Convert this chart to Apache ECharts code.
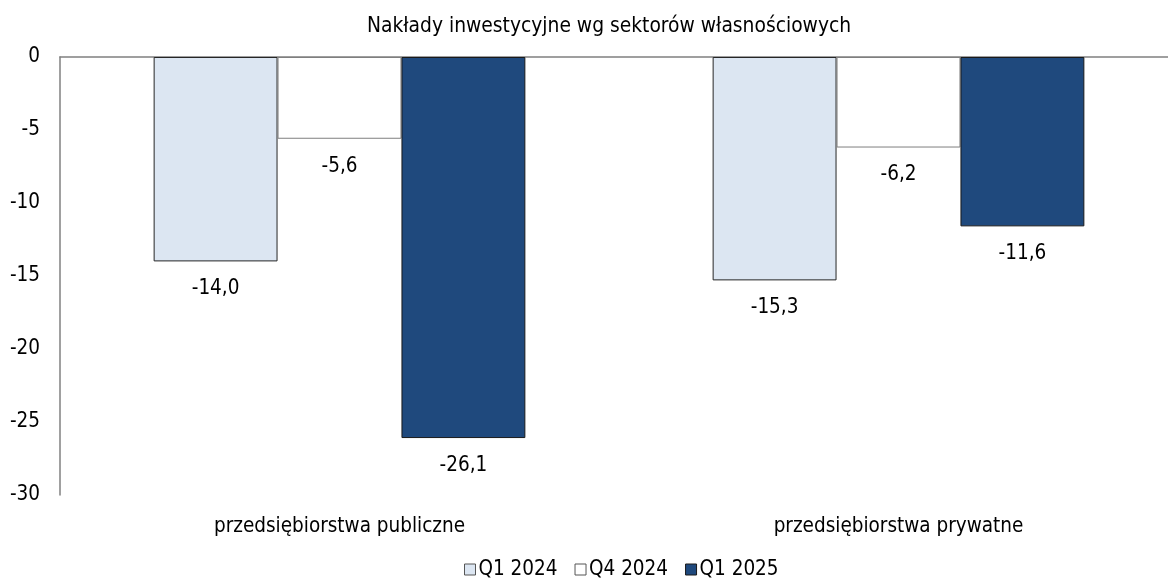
<!DOCTYPE html>
<html>
<head>
<meta charset="utf-8">
<script src="https://cdn.jsdelivr.net/npm/echarts@6/dist/echarts.min.js"></script>
<style>
  html, body { margin: 0; padding: 0; background: #fff; }
  #chart { width: 1168px; height: 581px; }
</style>
</head>
<body>
<div id="chart"></div>
<script>
// Categories and series values (percent change)
const categories = ['przedsiębiorstwa publiczne', 'przedsiębiorstwa prywatne'];
const seriesNames = ['Q1 2024', 'Q4 2024', 'Q1 2025'];
const q1_2024 = [-14.0, -15.3];
const q4_2024 = [-5.6, -6.2];
const q1_2025 = [-26.1, -11.6];
const yTicks = [0, -5, -10, -15, -20, -25, -30];

// Prefer the condensed face; fall back to regular DejaVu Sans at a smaller size
function fontAvailable(name) {
  const c = document.createElement('canvas').getContext('2d');
  const s = 'przedsiębiorstwa publiczne 0123456789';
  c.font = '20px monospace';
  const a = c.measureText(s).width;
  c.font = '20px "' + name + '", monospace';
  return c.measureText(s).width !== a;
}
const condensed = fontAvailable('DejaVu Sans Condensed');
const FONT = condensed ? 'DejaVu Sans Condensed' : 'DejaVu Sans';
const SZ = k => Math.round((condensed ? k : k * 0.9) * 10) / 10;

const fmt = v => v.toFixed(1).replace('.', ',');

const fills = ['#DCE6F2', '#FFFFFF', '#1F497D'];
const borders = ['#262626', '#7f7f7f', '#1a1a1a'];
const values = [q1_2024, q4_2024, q1_2025];

const series = seriesNames.map((name, i) => ({
  name,
  type: 'bar',
  data: values[i],
  barGap: '0%',
  barCategoryGap: '33.5%',
  itemStyle: { color: fills[i], borderColor: borders[i], borderWidth: 1 },
  label: {
    show: true,
    position: 'bottom',
    distance: 17,
    color: '#000',
    fontFamily: FONT,
    fontSize: SZ(20.5),
    formatter: p => fmt(p.value)
  }
}));

const chart = echarts.init(document.getElementById('chart'), null, { renderer: 'canvas' });
chart.setOption({
  animation: false,
  backgroundColor: '#fff',
  title: {
    text: 'Nakłady inwestycyjne wg sektorów własnościowych',
    left: 362,
    top: 11,
    textStyle: { fontFamily: FONT, fontSize: SZ(20.8), fontWeight: 'normal', color: '#000' }
  },
  legend: {
    top: 554,
    left: 459,
    itemWidth: 11,
    itemHeight: 11,
    itemGap: 17,
    icon: 'rect',
    textStyle: { fontFamily: FONT, fontSize: SZ(20.5), color: '#000', padding: [0, 0, 0, -2] },
    data: seriesNames.map((n, i) => ({
      name: n,
      itemStyle: { color: fills[i], borderColor: i === 2 ? '#1a1a1a' : '#555', borderWidth: 1 }
    }))
  },
  grid: { left: 60, width: 1118, top: 57, height: 438, containLabel: false, outerBoundsMode: 'none' },
  xAxis: {
    type: 'category',
    data: categories,
    position: 'top',
    axisLine: { show: true, lineStyle: { color: '#808080', width: 1.5 } },
    axisTick: { show: false },
    axisLabel: { show: false }
  },
  yAxis: {
    type: 'value',
    min: -30,
    max: 0,
    interval: 5,
    axisLine: { show: true, lineStyle: { color: '#808080', width: 1.5 } },
    axisTick: { show: false },
    splitLine: { show: false },
    axisLabel: {
      margin: 20,
      color: '#000',
      fontFamily: FONT,
      fontSize: SZ(20.5),
      formatter: v => (yTicks.includes(v) ? String(v) : '')
    }
  },
  graphic: categories.map((c, i) => ({
    type: 'text',
    id: 'cat' + i,
    style: { text: c, fontFamily: FONT, fontSize: SZ(20.5), fill: '#000', textAlign: 'center', textVerticalAlign: 'middle' },
    position: [0, 0]
  })),
  series
});

// Category names sit under the plot area, centred on each group
function placeCategoryLabels() {
  const g = categories.map((c, i) => {
    const x = chart.convertToPixel({ xAxisIndex: 0 }, c);
    return { id: 'cat' + i, position: [x, 527] };
  });
  chart.setOption({ graphic: g });
}
placeCategoryLabels();
</script>
</body>
</html>
